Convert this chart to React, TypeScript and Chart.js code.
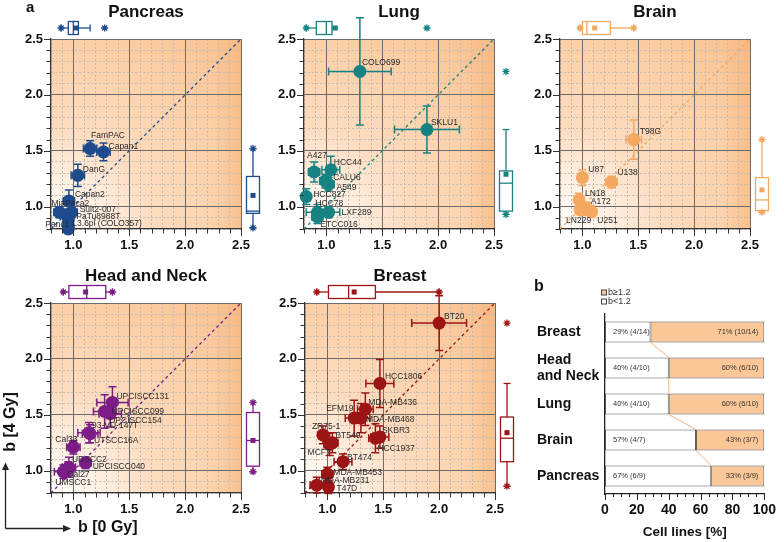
import React, { useEffect, useRef } from "react";
import { Chart, registerables } from "chart.js";
Chart.register(...registerables);

const FONT = '"Liberation Sans", Arial, Helvetica, sans-serif';
Chart.defaults.font.family = FONT;

// ---------- shared axis ticks ----------
const gridTicks = [0.8, 0.9, 1.0, 1.1, 1.2, 1.3, 1.4, 1.5, 1.6, 1.7, 1.8, 1.9, 2.0, 2.1, 2.2, 2.3, 2.4, 2.5];
const majorTicks = [1.0, 1.5, 2.0, 2.5];
const diagonal = [0.8, 2.5];

// box stats order: [min, lower whisker, Q1, median, Q3, upper whisker, max, mean]

// ---------- Pancreas ----------
const pancreasLines = ["FamPAC", "Capan1", "DanG", "Capan2", "MiaPaca2", "Suit2-007", "PaTu8988T", "L3.6pl (COLO357)", "Panc1"];
const pancreasB0 = [1.15, 1.27, 1.04, 0.96, 0.875, 0.985, 0.955, 0.955, 0.955];
const pancreasB4 = [1.52, 1.49, 1.28, 1.05, 0.95, 0.95, 0.88, 0.83, 0.8];
const pancreasErr0 = [0.06, 0.06, 0.06, 0.05, 0.05, 0.05, 0.04, 0.04, 0.04];
const pancreasErr4 = [0.07, 0.08, 0.1, 0.1, 0.05, 0.05, 0.05, 0.04, 0.04];
const pancreasLabelDx = [1, 5, 5, 6, -8, 8, 8, 4, -23];
const pancreasLabelDy = [-13, -5, -6, -6, -9, -3, -3, -2, -4];
const pancreasBox0 = [0.89, 0.89, 0.955, 1.0, 1.045, 1.15, 1.28, 1.02];
const pancreasBox4 = [0.81, 0.81, 0.94, 0.96, 1.27, 1.52, 1.52, 1.1];

// ---------- Lung ----------
const lungLines = ["COLO699", "SKLU1", "A427", "HCC44", "CALU6", "A549", "HCC827", "HCC78", "LXF289", "ETCC016"];
const lungB0 = [1.3, 1.9, 0.89, 1.04, 0.99, 1.02, 0.82, 0.92, 1.02, 0.92];
const lungB4 = [2.21, 1.69, 1.31, 1.33, 1.23, 1.2, 1.09, 0.95, 0.95, 0.91];
const lungErr0 = [0.28, 0.29, 0.05, 0.08, 0.05, 0.05, 0.03, 0.1, 0.1, 0.05];
const lungErr4 = [0.48, 0.21, 0.09, 0.12, 0.06, 0.06, 0.07, 0.07, 0.05, 0.06];
const lungLabelDx = [2, 4, -7, 3, 8, 8, 7, -2, 13, 3];
const lungLabelDy = [-9, -7, -16, -7, -3, 3, -2, -9, 0, 8];
const lungBox0 = [0.82, 0.82, 0.91, 1.0, 1.05, 1.05, 1.9, 1.08];
const lungBox4 = [0.93, 0.93, 0.96, 1.21, 1.32, 1.69, 2.21, 1.29];

// ---------- Brain ----------
const brainLines = ["T98G", "U87", "U138", "LN18", "A172", "LN229", "U251"];
const brainB0 = [1.46, 1.0, 1.26, 0.97, 1.04, 0.98, 1.08];
const brainB4 = [1.6, 1.26, 1.22, 1.06, 0.98, 0.97, 0.955];
const brainErr0 = [0.07, 0.04, 0.05, 0.03, 0.04, 0.04, 0.05];
const brainErr4 = [0.175, 0.07, 0.05, 0.06, 0.06, 0.04, 0.05];
const brainLabelDx = [6, 6, 6, 6, 4, -14, 6];
const brainLabelDy = [-8, -8, -9, -6, -7, 11, 9];
const brainBox0 = [0.98, 0.98, 1.0, 1.04, 1.25, 1.46, 1.46, 1.11];
const brainBox4 = [0.95, 0.95, 0.965, 1.06, 1.26, 1.6, 1.6, 1.15];

// ---------- Head and Neck ----------
const hnLines = ["UPCISCC131", "UPCISCC099", "UPCISCC154", "93-VU-147T", "UTSCC16A", "Cal33", "UDSCC2", "UPCISCC040", "Cal27", "UMSCC1"];
const hnB0 = [1.35, 1.28, 1.33, 1.14, 1.15, 1.0, 0.96, 1.11, 0.955, 0.91];
const hnB4 = [1.61, 1.53, 1.51, 1.34, 1.33, 1.21, 1.03, 1.07, 1.02, 0.99];
const hnErr0 = [0.14, 0.1, 0.1, 0.1, 0.07, 0.06, 0.06, 0.05, 0.06, 0.08];
const hnErr4 = [0.14, 0.15, 0.12, 0.09, 0.08, 0.06, 0.09, 0.05, 0.06, 0.06];
const hnLabelDx = [4, 7, -1, 3, 4, -18, 3, 7, -1, -8];
const hnLabelDy = [-6, 0, 7, -7, 7, -8, -8, 4, 6, 11];
const hnBox0 = [0.91, 0.91, 0.96, 1.12, 1.29, 1.35, 1.35, 1.11];
const hnBox4 = [0.99, 0.99, 1.04, 1.27, 1.52, 1.61, 1.61, 1.27];

// ---------- Breast ----------
const breastLines = ["BT20", "HCC1806", "MDA-MB436", "EFM19", "MDA-MB468", "SKBR3", "HCC1937", "ZR75-1", "BT549", "MCF7", "BT474", "MDA-MB453", "MDA-MB231", "T47D"];
const breastB0 = [2.0, 1.47, 1.34, 1.24, 1.3, 1.47, 1.43, 0.96, 1.045, 1.02, 1.14, 1.0, 0.905, 1.01];
const breastB4 = [2.32, 1.78, 1.55, 1.47, 1.47, 1.3, 1.29, 1.32, 1.25, 1.235, 1.08, 0.97, 0.87, 0.855];
const breastErr0 = [0.245, 0.125, 0.07, 0.08, 0.08, 0.08, 0.06, 0.04, 0.05, 0.05, 0.08, 0.05, 0.06, 0.04];
const breastErr4 = [0.245, 0.215, 0.145, 0.16, 0.13, 0.1, 0.13, 0.08, 0.09, 0.1, 0.07, 0.06, 0.07, 0.06];
const breastLabelDx = [5, 5, 3, -28, 5, 2, 2, -11, 3, -22, 4, 6, 4, 8];
const breastLabelDy = [-6, -7, -7, -9, 2, -6, 10, -8, -7, 8, -4, -1, -5, 2];
const breastBox0 = [0.905, 0.905, 1.01, 1.19, 1.43, 2.0, 2.0, 1.24];
const breastBox4 = [0.86, 0.86, 1.08, 1.29, 1.48, 1.78, 2.32, 1.34];

// ---------- Panel b ----------
const cancerTypes: (string | string[])[] = ["Breast", ["Head", "and Neck"], "Lung", "Brain", "Pancreas"];
const lowCounts = [4, 4, 4, 4, 6];
const highCounts = [10, 6, 6, 3, 3];
const pctTicks = [0, 5, 10, 15, 20, 25, 30, 35, 40, 45, 50, 55, 60, 65, 70, 75, 80, 85, 90, 95, 100];
const pctLabels = [0, 20, 40, 60, 80, 100];

type Panel = {
  title: string; color: string; names: string[]; b0: number[]; b4: number[];
  err0: number[]; err4: number[]; dx: number[]; dy: number[];
  box0: number[]; box4: number[]; left: number; top: number;
};

const panels: Panel[] = [
  { title: "Pancreas", color: "#1d4b8c", names: pancreasLines, b0: pancreasB0, b4: pancreasB4, err0: pancreasErr0, err4: pancreasErr4, dx: pancreasLabelDx, dy: pancreasLabelDy, box0: pancreasBox0, box4: pancreasBox4, left: 0, top: 0 },
  { title: "Lung", color: "#168382", names: lungLines, b0: lungB0, b4: lungB4, err0: lungErr0, err4: lungErr4, dx: lungLabelDx, dy: lungLabelDy, box0: lungBox0, box4: lungBox4, left: 253, top: 0 },
  { title: "Brain", color: "#f4a860", names: brainLines, b0: brainB0, b4: brainB4, err0: brainErr0, err4: brainErr4, dx: brainLabelDx, dy: brainLabelDy, box0: brainBox0, box4: brainBox4, left: 509, top: 0 },
  { title: "Head and Neck", color: "#7b1c87", names: hnLines, b0: hnB0, b4: hnB4, err0: hnErr0, err4: hnErr4, dx: hnLabelDx, dy: hnLabelDy, box0: hnBox0, box4: hnBox4, left: 0, top: 264 },
  { title: "Breast", color: "#9c1414", names: breastLines, b0: breastB0, b4: breastB4, err0: breastErr0, err4: breastErr4, dx: breastLabelDx, dy: breastLabelDy, box0: breastBox0, box4: breastBox4, left: 254, top: 264 },
];

const isMajor = (v: number) => Math.abs(v * 2 - Math.round(v * 2)) < 1e-6;
const isLabelled = (v: number) => majorTicks.some((m) => Math.abs(m - v) < 1e-6);

function drawStar(ctx: CanvasRenderingContext2D, x: number, y: number, r: number) {
  ctx.beginPath();
  ctx.moveTo(x - r, y); ctx.lineTo(x + r, y);
  ctx.moveTo(x, y - r); ctx.lineTo(x, y + r);
  const d = r * 0.72;
  ctx.moveTo(x - d, y - d); ctx.lineTo(x + d, y + d);
  ctx.moveTo(x - d, y + d); ctx.lineTo(x + d, y - d);
  ctx.stroke();
}

function drawBox(ctx: CanvasRenderingContext2D, scale: any, stats: number[], c: number, horizontal: boolean, color: string) {
  const [mn, wl, q1, md, q3, wh, mx, mean] = stats.map((v) => scale.getPixelForValue(v));
  const h = 6.5;
  ctx.save();
  ctx.strokeStyle = color;
  ctx.lineWidth = 1.3;
  const L = (a: number, b: number, c2: number, d: number) => {
    ctx.beginPath();
    if (horizontal) { ctx.moveTo(a, b); ctx.lineTo(c2, d); } else { ctx.moveTo(b, a); ctx.lineTo(d, c2); }
    ctx.stroke();
  };
  L(wl, c, q1, c);
  L(q3, c, wh, c);
  L(wl, c - 3.5, wl, c + 3.5);
  L(wh, c - 3.5, wh, c + 3.5);
  ctx.fillStyle = "#ffffff";
  if (horizontal) {
    ctx.fillRect(q1, c - h, q3 - q1, 2 * h);
    ctx.strokeRect(q1, c - h, q3 - q1, 2 * h);
  } else {
    ctx.fillRect(c - h, q3, 2 * h, q1 - q3);
    ctx.strokeRect(c - h, q3, 2 * h, q1 - q3);
  }
  L(md, c - h, md, c + h);
  ctx.fillStyle = color;
  if (horizontal) ctx.fillRect(mean - 2.5, c - 2.5, 5, 5); else ctx.fillRect(c - 2.5, mean - 2.5, 5, 5);
  if (horizontal) { drawStar(ctx, mn, c, 3.5); drawStar(ctx, mx, c, 3.5); }
  else { drawStar(ctx, c, mn, 3.5); drawStar(ctx, c, mx, 3.5); }
  ctx.restore();
}

const bgPlugin = {
  id: "bgGradient",
  beforeDraw(chart: any) {
    const { ctx, chartArea: a } = chart;
    const r = Math.hypot(a.width, a.height);
    const g = ctx.createRadialGradient(a.left, a.bottom, 0, a.left, a.bottom, r);
    g.addColorStop(0, "#ffffff");
    g.addColorStop(0.12, "#fff6ee");
    g.addColorStop(0.38, "#fddcbf");
    g.addColorStop(0.7, "#fccfa6");
    g.addColorStop(1, "#f9c08d");
    ctx.save();
    ctx.fillStyle = g;
    ctx.fillRect(a.left, a.top, a.width, a.height);
    const g2 = ctx.createLinearGradient(a.right - 28, 0, a.right, 0);
    g2.addColorStop(0, "rgba(246,176,115,0)");
    g2.addColorStop(1, "rgba(246,176,115,0.45)");
    ctx.fillStyle = g2;
    ctx.fillRect(a.right - 28, a.top, 28, a.height);
    ctx.restore();
  },
};

function scatterOverlay(p: Panel) {
  return {
    id: "scatterOverlay",
    beforeDatasetsDraw(chart: any) {
      const { ctx } = chart;
      const xs = chart.scales.x, ys = chart.scales.y;
      ctx.save();
      ctx.strokeStyle = p.color;
      ctx.lineWidth = 1.5;
      p.b0.forEach((x, i) => {
        const y = p.b4[i];
        const px = xs.getPixelForValue(x), py = ys.getPixelForValue(y);
        const xl = xs.getPixelForValue(x - p.err0[i]), xr = xs.getPixelForValue(x + p.err0[i]);
        const yt = ys.getPixelForValue(y + p.err4[i]), yb = ys.getPixelForValue(y - p.err4[i]);
        ctx.beginPath();
        ctx.moveTo(xl, py); ctx.lineTo(xr, py);
        ctx.moveTo(xl, py - 4); ctx.lineTo(xl, py + 4);
        ctx.moveTo(xr, py - 4); ctx.lineTo(xr, py + 4);
        ctx.moveTo(px, yt); ctx.lineTo(px, yb);
        ctx.moveTo(px - 4, yt); ctx.lineTo(px + 4, yt);
        ctx.moveTo(px - 4, yb); ctx.lineTo(px + 4, yb);
        ctx.stroke();
      });
      ctx.restore();
    },
    afterDraw(chart: any) {
      const { ctx, chartArea: a } = chart;
      const xs = chart.scales.x, ys = chart.scales.y;
      ctx.save();
      // tick marks
      ctx.strokeStyle = "#333";
      ctx.lineWidth = 1;
      xs.ticks.forEach((t: any) => {
        const px = Math.round(xs.getPixelForValue(t.value)) + 0.5;
        const len = isMajor(t.value) ? 7 : 4.5;
        ctx.beginPath(); ctx.moveTo(px, a.bottom); ctx.lineTo(px, a.bottom + len); ctx.stroke();
      });
      ys.ticks.forEach((t: any) => {
        const py = Math.round(ys.getPixelForValue(t.value)) + 0.5;
        const len = isMajor(t.value) ? 7 : 4.5;
        ctx.beginPath(); ctx.moveTo(a.left - len, py); ctx.lineTo(a.left, py); ctx.stroke();
      });
      // point labels
      const meta = chart.getDatasetMeta(0);
      ctx.fillStyle = "#2a2a2a";
      ctx.font = `8.5px ${FONT}`;
      ctx.textAlign = "left";
      ctx.textBaseline = "middle";
      p.names.forEach((n, i) => {
        const el = meta.data[i];
        ctx.fillText(n, el.x + p.dx[i], el.y + p.dy[i]);
      });
      // title
      ctx.fillStyle = "#111";
      ctx.font = `bold 17px ${FONT}`;
      ctx.textAlign = "center";
      ctx.fillText(p.title, (a.left + a.right) / 2, 12.5);
      ctx.restore();
      // marginal box plots
      drawBox(ctx, xs, p.box0, a.top - 11, true, p.color);
      drawBox(ctx, ys, p.box4, a.right + 12, false, p.color);
    },
  };
}

function scatterConfig(p: Panel): any {
  const axisCommon = (afterFit: (s: any) => void, padding: number) => ({
    type: "linear",
    min: 0.8,
    max: 2.5,
    afterBuildTicks: (s: any) => { s.ticks = gridTicks.map((v) => ({ value: v })); },
    afterFit,
    grid: {
      color: (c: any) => (c.tick && !isMajor(c.tick.value) ? "#c4bab0" : "#6b6b6b"),
      lineWidth: 1,
      drawTicks: false,
    },
    border: {
      display: true,
      color: "#333",
      width: 1.3,
      dash: (c: any) => (c.tick && !isMajor(c.tick.value) ? [2, 2] : []),
    },
    ticks: {
      autoSkip: false,
      maxRotation: 0,
      minRotation: 0,
      padding,
      color: "#111",
      font: { family: FONT, size: 13, weight: "bold" },
      callback: (v: number) => (isLabelled(v) ? v.toFixed(1) : ""),
    },
  });
  return {
    type: "scatter",
    data: {
      datasets: [
        {
          data: p.b0.map((x, i) => ({ x, y: p.b4[i] })),
          pointRadius: 6.5,
          pointHoverRadius: 6.5,
          backgroundColor: p.color,
          borderColor: p.color,
          borderWidth: 0,
          clip: false,
        },
        {
          type: "line",
          data: diagonal.map((v) => ({ x: v, y: v })),
          borderColor: p.color,
          borderWidth: 1.3,
          borderDash: [3, 3],
          pointRadius: 0,
          fill: false,
        },
      ],
    },
    options: {
      responsive: false,
      animation: false,
      events: [],
      layout: { padding: { top: 39, right: 27, left: 0, bottom: 0 } },
      plugins: { legend: { display: false }, tooltip: { enabled: false }, title: { display: false } },
      scales: {
        x: axisCommon((s: any) => { s.height = 41; }, 9),
        y: axisCommon((s: any) => { s.width = 51; }, 8),
      },
    },
    plugins: [bgPlugin, scatterOverlay(p)],
  };
}

function barConfig(): any {
  const totals = lowCounts.map((l, i) => l + highCounts[i]);
  const lowPct = lowCounts.map((l, i) => (l / totals[i]) * 100);
  const highPct = highCounts.map((h, i) => (h / totals[i]) * 100);
  const overlay = {
    id: "barOverlay",
    afterDatasetsDraw(chart: any) {
      const { ctx, chartArea: a } = chart;
      const m0 = chart.getDatasetMeta(0);
      ctx.save();
      // connectors
      ctx.strokeStyle = "#f3b27c";
      ctx.lineWidth = 1;
      for (let i = 0; i < m0.data.length - 1; i++) {
        const e0 = m0.data[i], e1 = m0.data[i + 1];
        ctx.beginPath();
        ctx.moveTo(e0.x, e0.y + e0.height / 2);
        ctx.lineTo(e1.x, e1.y - e1.height / 2);
        ctx.stroke();
      }
      // bar labels
      ctx.fillStyle = "#333";
      ctx.font = `7.5px ${FONT}`;
      ctx.textBaseline = "middle";
      m0.data.forEach((e: any, i: number) => {
        ctx.textAlign = "left";
        ctx.fillText(`${Math.round(lowPct[i])}% (${lowCounts[i]}/${totals[i]})`, a.left + 8, e.y);
        ctx.textAlign = "right";
        ctx.fillText(`${Math.round(highPct[i])}% (${highCounts[i]}/${totals[i]})`, a.right - 6, e.y);
      });
      // tick marks
      const xs = chart.scales.x;
      ctx.strokeStyle = "#222";
      xs.ticks.forEach((t: any) => {
        const px = Math.round(xs.getPixelForValue(t.value)) + 0.5;
        const len = t.value % 20 === 0 ? 6 : 3;
        ctx.beginPath(); ctx.moveTo(px, a.bottom); ctx.lineTo(px, a.bottom + len); ctx.stroke();
      });
      // legend
      const lx = 601;
      const sq = [["#fbc797", "b≥1.2", 22.5], ["#ffffff", "b<1.2", 31.5]] as const;
      sq.forEach(([c, t, y]) => {
        ctx.fillStyle = c;
        ctx.fillRect(lx - 520, y - 2.5, 5, 5);
        ctx.strokeStyle = "#444";
        ctx.strokeRect(lx - 520 + 0.5, y - 2.5, 5, 5);
        ctx.fillStyle = "#333";
        ctx.font = `9px ${FONT}`;
        ctx.textAlign = "left";
        ctx.fillText(t, lx - 520 + 7, y);
      });
      // axis title
      ctx.fillStyle = "#111";
      ctx.font = `bold 13.5px ${FONT}`;
      ctx.textAlign = "center";
      ctx.fillText("Cell lines [%]", (a.left + a.right) / 2, 262);
      ctx.restore();
    },
  };
  return {
    type: "bar",
    data: {
      labels: cancerTypes,
      datasets: [
        { label: "b<1.2", data: lowPct, backgroundColor: "#ffffff", borderColor: "#555", borderWidth: 1, borderSkipped: false, barPercentage: 0.58, categoryPercentage: 1 },
        { label: "b≥1.2", data: highPct, backgroundColor: "#fbc797", borderColor: "#555", borderWidth: 1, borderSkipped: false, barPercentage: 0.58, categoryPercentage: 1 },
      ],
    },
    options: {
      indexAxis: "y",
      responsive: false,
      animation: false,
      events: [],
      layout: { padding: { top: 44, right: 14, left: 17, bottom: 0 } },
      plugins: { legend: { display: false }, tooltip: { enabled: false } },
      scales: {
        x: {
          stacked: true,
          min: 0,
          max: 100,
          afterBuildTicks: (s: any) => { s.ticks = pctTicks.map((v) => ({ value: v })); },
          afterFit: (s: any) => { s.height = 48; },
          grid: { display: false, drawTicks: false },
          border: { display: true, color: "#222", width: 1.3 },
          ticks: {
            autoSkip: false, maxRotation: 0, minRotation: 0, padding: 8, color: "#111",
            font: { family: FONT, size: 14, weight: "bold" },
            callback: (v: number) => (pctLabels.includes(v) ? String(v) : ""),
          },
        },
        y: {
          stacked: true,
          afterFit: (s: any) => { s.width = 68; },
          grid: { display: false, drawTicks: false },
          border: { display: true, color: "#222", width: 1.3 },
          ticks: {
            crossAlign: "far", padding: 0, color: "#111",
            font: { family: FONT, size: 14, weight: "bold", lineHeight: 1.15 },
          },
        },
      },
    },
    plugins: [overlay],
  };
}

function ChartBox({ left, top, width, height, build }: { left: number; top: number; width: number; height: number; build: () => any }) {
  const ref = useRef<HTMLCanvasElement>(null);
  useEffect(() => {
    const chart = new Chart(ref.current as HTMLCanvasElement, build());
    return () => chart.destroy();
  }, []);
  return <canvas ref={ref} width={width} height={height} style={{ position: "absolute", left, top, width, height }} />;
}

export default function App() {
  const bold = { position: "absolute" as const, fontWeight: "bold" as const, color: "#111", whiteSpace: "nowrap" as const };
  return (
    <div style={{ position: "fixed", left: 0, top: 0, width: 784, height: 542, background: "#fff", overflow: "hidden", fontFamily: FONT }}>
      {panels.map((p) => (
        <ChartBox key={p.title} left={p.left} top={p.top} width={268} height={270} build={() => scatterConfig(p)} />
      ))}
      <ChartBox left={520} top={270} width={264} height={272} build={barConfig} />
      <div style={{ ...bold, left: 26, top: -1, fontSize: 15, lineHeight: "15px" }}>a</div>
      <div style={{ ...bold, left: 534, top: 278, fontSize: 16, lineHeight: "16px" }}>b</div>
      <div style={{ ...bold, left: -40, top: 412, width: 100, height: 20, fontSize: 16, lineHeight: "20px", textAlign: "center", transform: "rotate(-90deg)" }}>b [4 Gy]</div>
      <div style={{ ...bold, left: 78, top: 519, fontSize: 16, lineHeight: "16px" }}>b [0 Gy]</div>
      <svg width={80} height={80} style={{ position: "absolute", left: 0, top: 458 }}>
        <line x1={5.5} y1={11} x2={5.5} y2={70.5} stroke="#222" strokeWidth={1.3} />
        <line x1={5.5} y1={70.5} x2={64} y2={70.5} stroke="#222" strokeWidth={1.3} />
        <polygon points="5.5,4.5 2,12 9,12" fill="#222" />
        <polygon points="71,70.5 63,67 63,74" fill="#222" />
      </svg>
    </div>
  );
}
